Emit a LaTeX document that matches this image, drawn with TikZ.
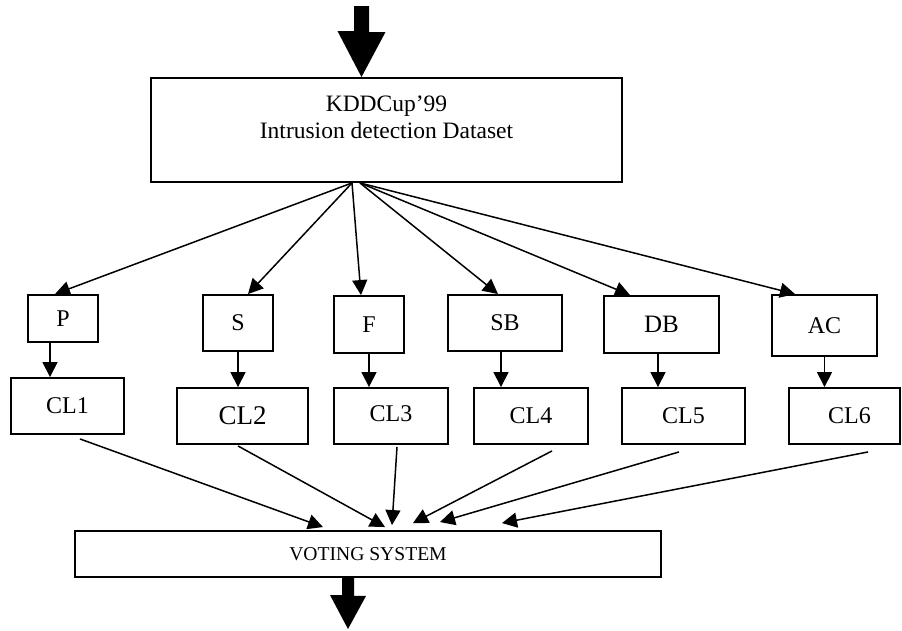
\documentclass[tikz,border=0pt]{standalone}
\usepackage{fontspec}
\setmainfont{Liberation Serif}
\usetikzlibrary{arrows.meta}
\tikzset{
  box/.style={draw=black, line width=1.9pt, rectangle, inner sep=0pt, fill=white},
  conn/.style={draw=black, line width=1.5pt, -{Triangle[length=15pt,width=15pt]}},
  lbl/.style={inner sep=0pt, font=\fontsize{24}{27}\selectfont},
  cllbl/.style={inner sep=0pt, font=\fontsize{24}{27}\selectfont},
}
\begin{document}
\begin{tikzpicture}[x=1pt,y=-1pt]
\useasboundingbox (0,0) rectangle (902,630);
% top box
\node[box, minimum width=471pt, minimum height=104pt] (kdd) at (386.5,130) {};
\node[lbl, align=center, font=\fontsize{23.5}{27}\selectfont] (kddtext) at (386.5,117.5) {KDDCup’99\\Intrusion detection Dataset};
% feature boxes
\node[box, minimum width=70pt, minimum height=47pt] (P) at (63,318.5) {};
\node[lbl] (Pt) at (P.center) {P};
\node[box, minimum width=70pt, minimum height=56pt] (S) at (238,323) {};
\node[lbl] (St) at (S.center) {S};
\node[box, minimum width=70pt, minimum height=57pt] (F) at (369,324.5) {};
\node[lbl] (Ft) at (F.center) {F};
\node[box, minimum width=114pt, minimum height=56pt] (SB) at (505,323) {};
\node[lbl] (SBt) at (SB.center) {SB};
\node[box, minimum width=115pt, minimum height=57pt] (DB) at (661.5,324.5) {};
\node[lbl, font=\fontsize{25}{27}\selectfont] (DBt) at (DB.center) {DB};
\node[box, minimum width=105pt, minimum height=61pt] (AC) at (824.5,325.5) {};
\node[lbl] (ACt) at (AC.center) {AC};
% classifier boxes
\node[box, minimum width=113pt, minimum height=56pt] (CL1) at (67.5,406) {};
\node[cllbl] (CL1t) at (CL1.center) {CL1};
\node[box, minimum width=131pt, minimum height=56pt] (CL2) at (242.5,416) {};
\node[cllbl, font=\fontsize{27}{30}\selectfont] (CL2t) at (CL2.center) {CL2};
\node[box, minimum width=114pt, minimum height=56pt] (CL3) at (391,416) {};
\node[cllbl] (CL3t) at ([yshift=2pt]CL3.center) {CL3};
\node[box, minimum width=114pt, minimum height=56pt] (CL4) at (531,416) {};
\node[cllbl] (CL4t) at (CL4.center) {CL4};
\node[box, minimum width=123pt, minimum height=56pt] (CL5) at (683.5,416) {};
\node[cllbl] (CL5t) at (CL5.center) {CL5};
\node[box, minimum width=111pt, minimum height=56pt] (CL6) at (844.5,416) {};
\node[cllbl] (CL6t) at ([xshift=5pt]CL6.center) {CL6};
% voting
\node[box, minimum width=586pt, minimum height=46pt] (vote) at (368,554) {};
\node[inner sep=0pt, font=\fontsize{19.6}{22}\selectfont] (votet) at (vote.center) {VOTING SYSTEM};
% fan arrows
\draw[conn] ([xshift=-34.5pt]kdd.south) -- ([xshift=-8pt]P.north);
\draw[conn] ([xshift=-34.5pt]kdd.south) -- ([xshift=10pt]S.north);
\draw[conn] ([xshift=-34.5pt]kdd.south) -- ([xshift=-8pt]F.north);
\draw[conn] ([xshift=-26.5pt]kdd.south) -- ([xshift=-7pt]SB.north);
\draw[conn] ([xshift=-26.5pt]kdd.south) -- ([xshift=-31.5pt]DB.north);
\draw[conn] ([xshift=-26.5pt]kdd.south) -- ([xshift=-29.5pt]AC.north);
% vertical arrows
\draw[conn] ([xshift=-13pt]P.south) -- ([xshift=-13pt]P.south |- CL1.north);
\draw[conn] (S.south) -- (S.south |- CL2.north);
\draw[conn] (F.south) -- (F.south |- CL3.north);
\draw[conn] ([xshift=-4pt]SB.south) -- ([xshift=-4pt]SB.south |- CL4.north);
\draw[conn] ([xshift=-3.5pt]DB.south) -- ([xshift=-3.5pt]DB.south |- CL5.north);
\draw[conn] (AC.south) -- (AC.south |- CL6.north);
% to voting
\draw[conn] ([xshift=12.5pt,yshift=-4pt]CL1.south) -- ([xshift=-45pt,yshift=3pt]vote.north);
\draw[conn] ([xshift=-4.5pt,yshift=-1pt]CL2.south) -- ([xshift=17pt,yshift=3pt]vote.north);
\draw[conn] ([xshift=6pt,yshift=-2pt]CL3.south) -- ([xshift=24pt,yshift=5pt]vote.north);
\draw[conn] ([xshift=21pt,yshift=-6pt]CL4.south) -- ([xshift=45pt,yshift=7pt]vote.north);
\draw[conn] ([xshift=-4.5pt,yshift=-7pt]CL5.south) -- ([xshift=72pt,yshift=8pt]vote.north);
\draw[conn] ([xshift=23.5pt,yshift=-7pt]CL6.south) -- ([xshift=134pt,yshift=7pt]vote.north);
% thick in/out arrows
\coordinate (intop) at (361.5,6);
\fill[black] ([xshift=-7.5pt]intop) -- ++(15,0) -- ++(0,26) -- ++(16.5,0) -- (intop |- kdd.north) -- ++(-24,-46) -- ++(16.5,0) -- cycle;
\coordinate (outtip) at (348,629);
\fill[black] (vote.south -| outtip) ++(-6,0) -- ++(12,0) -- ++(0,18) -- ++(12,0) -- (outtip) -- ++(-18,-34) -- ++(12,0) -- ++(0,-18) -- cycle;
\end{tikzpicture}
\end{document}
